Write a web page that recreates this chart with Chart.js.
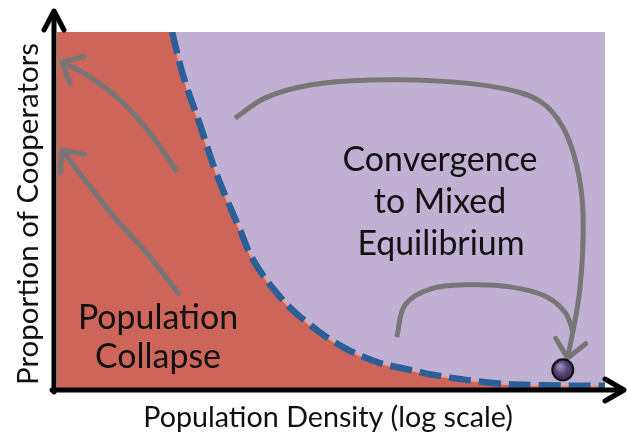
<!DOCTYPE html>
<html>
<head>
<meta charset="utf-8">
<script src="https://cdn.jsdelivr.net/npm/chart.js@4/dist/chart.umd.min.js"></script>
<style>
html,body{margin:0;padding:0;background:#fff;}
canvas{display:block;}
</style>
</head>
<body>
<canvas id="c" width="627" height="436"></canvas>
<script>
// Conceptual axes: x = log population density (0-100), y = proportion of cooperators (0-100)
const boundaryX = [21.0, 23.0, 26.1, 29.2, 33.4, 35.8, 40.7, 46.2, 52.2, 58.4, 64.4, 68.6, 79.6, 88.1, 100];
const boundaryY = [100, 87.9, 73.9, 59.8, 44.4, 36.0, 25.6, 17.7, 11.5, 7.3, 5.1, 3.7, 1.4, 0.8, 0.6];

const collapseArrow1X = [21.9, 17.0, 11.5, 6.0, 0.9];
const collapseArrow1Y = [60.7, 71.6, 80.9, 87.4, 91.6];
const collapseArrow2X = [22.4, 16.4, 10.9, 5.1, 0.9];
const collapseArrow2Y = [26.1, 37.9, 47.2, 58.4, 66.9];

const convergeArrow1X = [32.5, 38.0, 46.2, 57.1, 69.9, 80.8, 88.1, 92.3, 94.9, 96.0, 95.4, 93.2];
const convergeArrow1Y = [75.8, 81.5, 85.1, 86.5, 86.2, 84.3, 80.6, 73.3, 62.1, 48.6, 27.5, 8.4];
const convergeArrow2X = [62.0, 63.5, 68.1, 75.4, 82.7, 89.1, 92.7, 94.2];
const convergeArrow2Y = [14.3, 23.3, 27.8, 29.0, 28.4, 25.8, 21.3, 15.7];

const equilibriumX = [92.3];
const equilibriumY = [5.1];

const xAxisTitle = "Population Density (log scale)";
const yAxisTitle = "Proportion of Cooperators";
const regionLabels = [
  {lines: ["Convergence", "to Mixed", "Equilibrium"]},
  {lines: ["Population", "Collapse"]}
];

const pts = (xs, ys) => xs.map((x, i) => ({x: x, y: ys[i]}));

const RED = '#cd655b';
const PURPLE = '#c0b0d3';
const BLUE = '#2b5f97';
const GRAY = '#777777';

const arrowSets = [
  {data: pts(collapseArrow1X, collapseArrow1Y), head: true},
  {data: pts(collapseArrow2X, collapseArrow2Y), head: true},
  {data: pts(convergeArrow1X, convergeArrow1Y), head: true},
  {data: pts(convergeArrow2X, convergeArrow2Y), head: false}
];

const datasets = [
  {label: 'collapse-left', data: [{x: 0, y: 100}, {x: boundaryX[0], y: 100}], fill: 'origin',
   backgroundColor: RED, borderWidth: 0, pointRadius: 0, order: 10, tension: 0},
  {label: 'collapse', data: pts(boundaryX, boundaryY), fill: 'origin', backgroundColor: RED,
   borderColor: '#e3a197', borderWidth: 2, pointRadius: 0, order: 9, tension: 0.4},
  {label: 'boundary', data: pts(boundaryX, boundaryY), fill: false, borderColor: BLUE,
   borderWidth: 6.5, borderDash: [22, 8], borderCapStyle: 'butt', pointRadius: 0, order: 8, tension: 0.4}
];
arrowSets.forEach((a, i) => datasets.push({
  label: 'arrow' + i, data: a.data, fill: false, borderColor: GRAY, borderWidth: 5,
  borderCapStyle: 'butt', pointRadius: 0, order: 5, tension: 0.35
}));
datasets.push({
  label: 'equilibrium', data: pts(equilibriumX, equilibriumY), showLine: false,
  pointRadius: 0, order: 1
});

function fitFont(ctx, text, width, family, weight) {
  ctx.font = (weight || '') + ' 100px ' + family;
  const w = ctx.measureText(text).width;
  return 100 * width / w;
}

const decor = {
  id: 'decor',
  beforeDatasetsDraw(chart) {
    const {ctx, chartArea: a} = chart;
    ctx.save();
    ctx.fillStyle = PURPLE;
    ctx.fillRect(a.left, a.top, a.right - a.left, a.bottom - a.top);
    ctx.restore();
  },
  afterDatasetsDraw(chart) {
    const {ctx, chartArea: a, scales} = chart;
    const xs = scales.x, ys = scales.y;
    ctx.save();
    // arrowheads
    ctx.strokeStyle = GRAY; ctx.lineWidth = 5; ctx.lineCap = 'round'; ctx.lineJoin = 'round';
    arrowSets.forEach(s => {
      if (!s.head) return;
      const n = s.data.length;
      const tx = xs.getPixelForValue(s.data[n-1].x), ty = ys.getPixelForValue(s.data[n-1].y);
      const px = xs.getPixelForValue(s.data[n-2].x), py = ys.getPixelForValue(s.data[n-2].y);
      const ang = Math.atan2(py - ty, px - tx);
      const L = 23, sp = 0.72;
      ctx.beginPath();
      ctx.moveTo(tx + L*Math.cos(ang+sp), ty + L*Math.sin(ang+sp));
      ctx.lineTo(tx, ty);
      ctx.lineTo(tx + L*Math.cos(ang-sp), ty + L*Math.sin(ang-sp));
      ctx.stroke();
    });
    // equilibrium ball
    const bx = xs.getPixelForValue(equilibriumX[0]), by = ys.getPixelForValue(equilibriumY[0]);
    const g = ctx.createRadialGradient(bx-3, by-4, 1, bx, by, 11);
    g.addColorStop(0, '#9a8cb8'); g.addColorStop(0.5, '#5a4a7c'); g.addColorStop(1, '#33284d');
    ctx.beginPath(); ctx.arc(bx, by, 10.5, 0, Math.PI*2);
    ctx.fillStyle = g; ctx.fill();
    ctx.lineWidth = 2; ctx.strokeStyle = '#111'; ctx.stroke();

    // axes
    ctx.strokeStyle = '#000'; ctx.lineWidth = 5; ctx.lineCap = 'round'; ctx.lineJoin = 'round';
    const ax = a.left - 3, ay = a.bottom + 2;
    ctx.beginPath(); ctx.moveTo(ax, ay + 2); ctx.lineTo(ax, 12); ctx.stroke();
    ctx.beginPath(); ctx.moveTo(ax - 10, 30); ctx.lineTo(ax, 11); ctx.lineTo(ax + 10, 30); ctx.stroke();
    ctx.beginPath(); ctx.moveTo(ax - 2, ay); ctx.lineTo(623, ay); ctx.stroke();
    ctx.beginPath(); ctx.moveTo(605, ay - 11); ctx.lineTo(624, ay); ctx.lineTo(605, ay + 11); ctx.stroke();

    // texts
    const fam = 'Lato';
    ctx.fillStyle = '#111'; ctx.textAlign = 'center'; ctx.textBaseline = 'middle';
    const lab1 = regionLabels[0].lines;
    let fs = fitFont(ctx, lab1[0], 195, fam);
    ctx.font = fs.toFixed(1) + 'px ' + fam;
    ctx.fillText(lab1[0], 440, 160);
    ctx.fillText(lab1[1], 440, 202);
    ctx.fillText(lab1[2], 441, 244);
    const lab2 = regionLabels[1].lines;
    fs = fitFont(ctx, lab2[0], 160, fam);
    ctx.font = fs.toFixed(1) + 'px ' + fam;
    ctx.fillText(lab2[0], 158, 318);
    ctx.fillText(lab2[1], 158, 357);
    fs = fitFont(ctx, xAxisTitle, 370, fam);
    ctx.font = fs.toFixed(1) + 'px ' + fam;
    ctx.fillText(xAxisTitle, 328, 418);
    fs = fitFont(ctx, yAxisTitle, 342, fam);
    ctx.font = fs.toFixed(1) + 'px ' + fam;
    ctx.translate(28, 214); ctx.rotate(-Math.PI/2);
    ctx.fillText(yAxisTitle, 0, 0);
    ctx.restore();
  }
};

new Chart(document.getElementById('c'), {
  type: 'scatter',
  data: {datasets: datasets.map(d => Object.assign({showLine: d.showLine !== false}, d))},
  options: {
    responsive: false, animation: false, devicePixelRatio: 1,
    layout: {padding: {left: 57, top: 32, right: 22, bottom: 48}},
    scales: {
      x: {type: 'linear', min: 0, max: 100, display: false},
      y: {type: 'linear', min: 0, max: 100, display: false}
    },
    plugins: {legend: {display: false}, tooltip: {enabled: false}},
    elements: {point: {radius: 0}}
  },
  plugins: [decor]
});
</script>
</body>
</html>
